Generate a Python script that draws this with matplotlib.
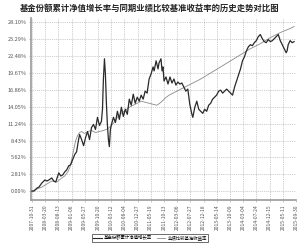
import matplotlib
matplotlib.use("Agg")
import matplotlib.pyplot as plt

plt.rcParams['font.family'] = ['Noto Sans CJK SC', 'DejaVu Sans']

title = "基金份额累计净值增长率与同期业绩比较基准收益率的历史走势对比图"
legend_labels = ["基金份额累计净值增长率", "业绩比较基准收益率"]

x_tick_labels = ["2007-10-31", "2008-03-20", "2008-08-13", "2009-01-06", "2009-05-27",
                 "2009-10-20", "2010-03-12", "2010-08-04", "2010-12-27", "2011-05-19",
                 "2011-10-13", "2012-03-06", "2012-07-27", "2012-12-18", "2013-05-14",
                 "2013-10-09", "2014-03-04", "2014-07-24", "2014-12-15", "2015-05-11",
                 "2015-09-30"]
y_ticks = [0.00, 2.81, 5.62, 8.43, 11.24, 14.05, 16.86, 19.67, 22.48, 25.29, 28.10]

# fund cumulative NAV growth (%) — x in tick-interval units
fund_x = [0.00, 0.15, 0.38, 0.53, 0.75, 0.98, 1.13, 1.28, 1.50, 1.65,
          1.80, 2.03, 2.18, 2.33, 2.48, 2.63, 2.78, 2.93, 3.08, 3.23,
          3.38, 3.53, 3.61, 3.76, 3.91, 4.06, 4.21, 4.36, 4.51, 4.66,
          4.81, 4.96, 5.11, 5.26, 5.34, 5.41, 5.49, 5.56, 5.64, 5.71,
          5.79, 5.86, 5.94, 6.02, 6.17, 6.32, 6.47, 6.62, 6.77, 6.92,
          7.07, 7.22, 7.37, 7.52, 7.67, 7.82, 7.97, 8.12, 8.27, 8.42,
          8.57, 8.72, 8.87, 9.02, 9.17, 9.25, 9.40, 9.55, 9.62, 9.77,
          9.85, 9.92, 10.00, 10.15, 10.30, 10.45, 10.60, 10.75, 10.90, 11.05,
          11.20, 11.35, 11.50, 11.65, 11.80, 11.95, 12.11, 12.18, 12.33, 12.48,
          12.63, 12.78, 12.93, 13.08, 13.23, 13.38, 13.53, 13.68, 13.83, 13.98,
          14.14, 14.29, 14.44, 14.59, 14.74, 14.89, 15.04, 15.19, 15.34, 15.49,
          15.64, 15.79, 15.94, 16.09, 16.24, 16.39, 16.54, 16.69, 16.84, 16.99,
          17.14, 17.29, 17.44, 17.59, 17.74, 17.89, 18.05, 18.20, 18.35, 18.50,
          18.65, 18.80, 18.95, 19.10, 19.25, 19.32, 19.40, 19.55, 19.70, 19.85]
fund_y = [0.00, 0.00, 0.50, 0.67, 1.35, 1.85, 1.68, 1.85, 2.19, 1.68,
          1.51, 3.03, 2.52, 2.69, 3.20, 3.53, 4.21, 4.38, 5.22, 6.06,
          6.56, 8.58, 9.42, 8.58, 7.57, 8.92, 9.93, 8.58, 10.60, 11.11,
          10.27, 12.29, 10.94, 11.61, 13.63, 18.68, 22.05, 19.52, 14.47, 11.11,
          8.58, 7.41, 10.27, 11.11, 12.29, 11.44, 13.30, 11.95, 13.97, 12.45,
          13.63, 12.79, 15.32, 14.31, 16.16, 14.64, 15.65, 14.98, 15.99, 15.32,
          16.66, 16.33, 18.68, 19.52, 20.70, 20.03, 21.71, 20.36, 21.37, 22.05,
          20.03, 20.70, 18.34, 19.02, 17.84, 19.02, 18.01, 18.68, 17.67, 18.18,
          17.84, 18.01, 17.33, 16.66, 17.00, 14.47, 12.79, 12.29, 13.97, 14.98,
          13.63, 13.30, 12.96, 13.63, 13.30, 14.31, 14.64, 15.32, 15.65, 15.99,
          16.66, 16.83, 16.33, 16.66, 17.00, 16.66, 16.33, 15.99, 17.33, 18.34,
          19.35, 20.36, 21.71, 22.38, 23.39, 24.07, 24.40, 24.24, 24.74, 25.08,
          25.75, 26.09, 25.41, 24.91, 24.74, 25.25, 24.91, 25.08, 25.41, 25.75,
          26.09, 25.08, 24.40, 23.73, 23.06, 23.39, 24.40, 25.08, 24.74, 24.91]

# benchmark return (%)
bench_x = [0.00, 0.38, 0.75, 1.13, 1.50, 1.88, 2.26, 2.48, 2.71, 2.86,
           3.01, 3.16, 3.31, 3.46, 3.61, 3.76, 3.98, 4.21, 4.51, 4.81,
           5.11, 5.41, 5.64, 5.86, 6.17, 6.47, 6.77, 7.07, 7.37, 7.67,
           7.97, 8.27, 8.57, 8.87, 9.17, 9.47, 9.77, 10.08, 10.38, 10.68,
           10.98, 11.28, 12.03, 12.78, 13.53, 14.29, 15.04, 15.79, 16.54, 17.29,
           18.05, 18.80, 19.55, 19.85]
bench_y = [0.00, 0.34, 0.67, 1.18, 1.68, 1.51, 2.19, 2.52, 3.20, 3.87,
           5.22, 6.90, 8.42, 9.26, 9.76, 9.93, 9.59, 9.93, 10.10, 9.76,
           9.93, 10.10, 10.27, 10.60, 11.28, 12.29, 12.96, 13.46, 13.97, 14.31,
           14.64, 14.98, 14.81, 14.64, 14.47, 14.31, 14.81, 15.48, 15.99, 16.33,
           16.66, 17.00, 17.84, 18.68, 19.69, 20.70, 21.71, 22.72, 23.73, 24.57,
           25.58, 26.42, 27.10, 27.43]

fig = plt.figure(figsize=(3.0, 2.44), dpi=100)
ax = fig.add_axes([0.103, 0.18, 0.884, 0.745])

ax.plot(fund_x, fund_y, color='#2a2a2a', lw=0.9, zorder=3)
ax.plot(bench_x, bench_y, color='#8a8a8a', lw=0.6, zorder=2)

ax.set_xlim(-0.08, 20.0)
ax.set_ylim(-1.5, 28.8)
ax.set_xticks(range(len(x_tick_labels)))
ax.set_xticklabels(x_tick_labels, rotation=90, fontsize=3.6, color='#555555')
ax.set_yticks(y_ticks)
ax.set_yticklabels([f"{v:.2f}%" for v in y_ticks], fontsize=4, color='#555555')
ax.tick_params(axis='both', length=1.5, width=0.4, color='#999999', pad=1.5)
ax.grid(True, linestyle=(0, (1.5, 1.5)), color='#aaaaaa', lw=0.45)
for s in ['top', 'right']:
    ax.spines[s].set_visible(False)
for s in ['left', 'bottom']:
    ax.spines[s].set_color('#999999')
    ax.spines[s].set_linewidth(1.2)

fig.text(0.5, 0.965, title, ha='center', va='center', fontsize=6, fontweight='bold', color='#222222')

handles = [plt.Line2D([], [], color='#2a2a2a', lw=0.8), plt.Line2D([], [], color='#8a8a8a', lw=0.6)]
leg = fig.legend(handles, legend_labels, loc='lower center', bbox_to_anchor=(0.5, 0.0), ncol=2,
                 fontsize=3.2, frameon=True, fancybox=False, edgecolor='#000000',
                 handlelength=2.0, handletextpad=0.4, columnspacing=1.0, borderpad=0.3)
leg.get_frame().set_linewidth(0.5)

fig.savefig("out.png", dpi=100)
